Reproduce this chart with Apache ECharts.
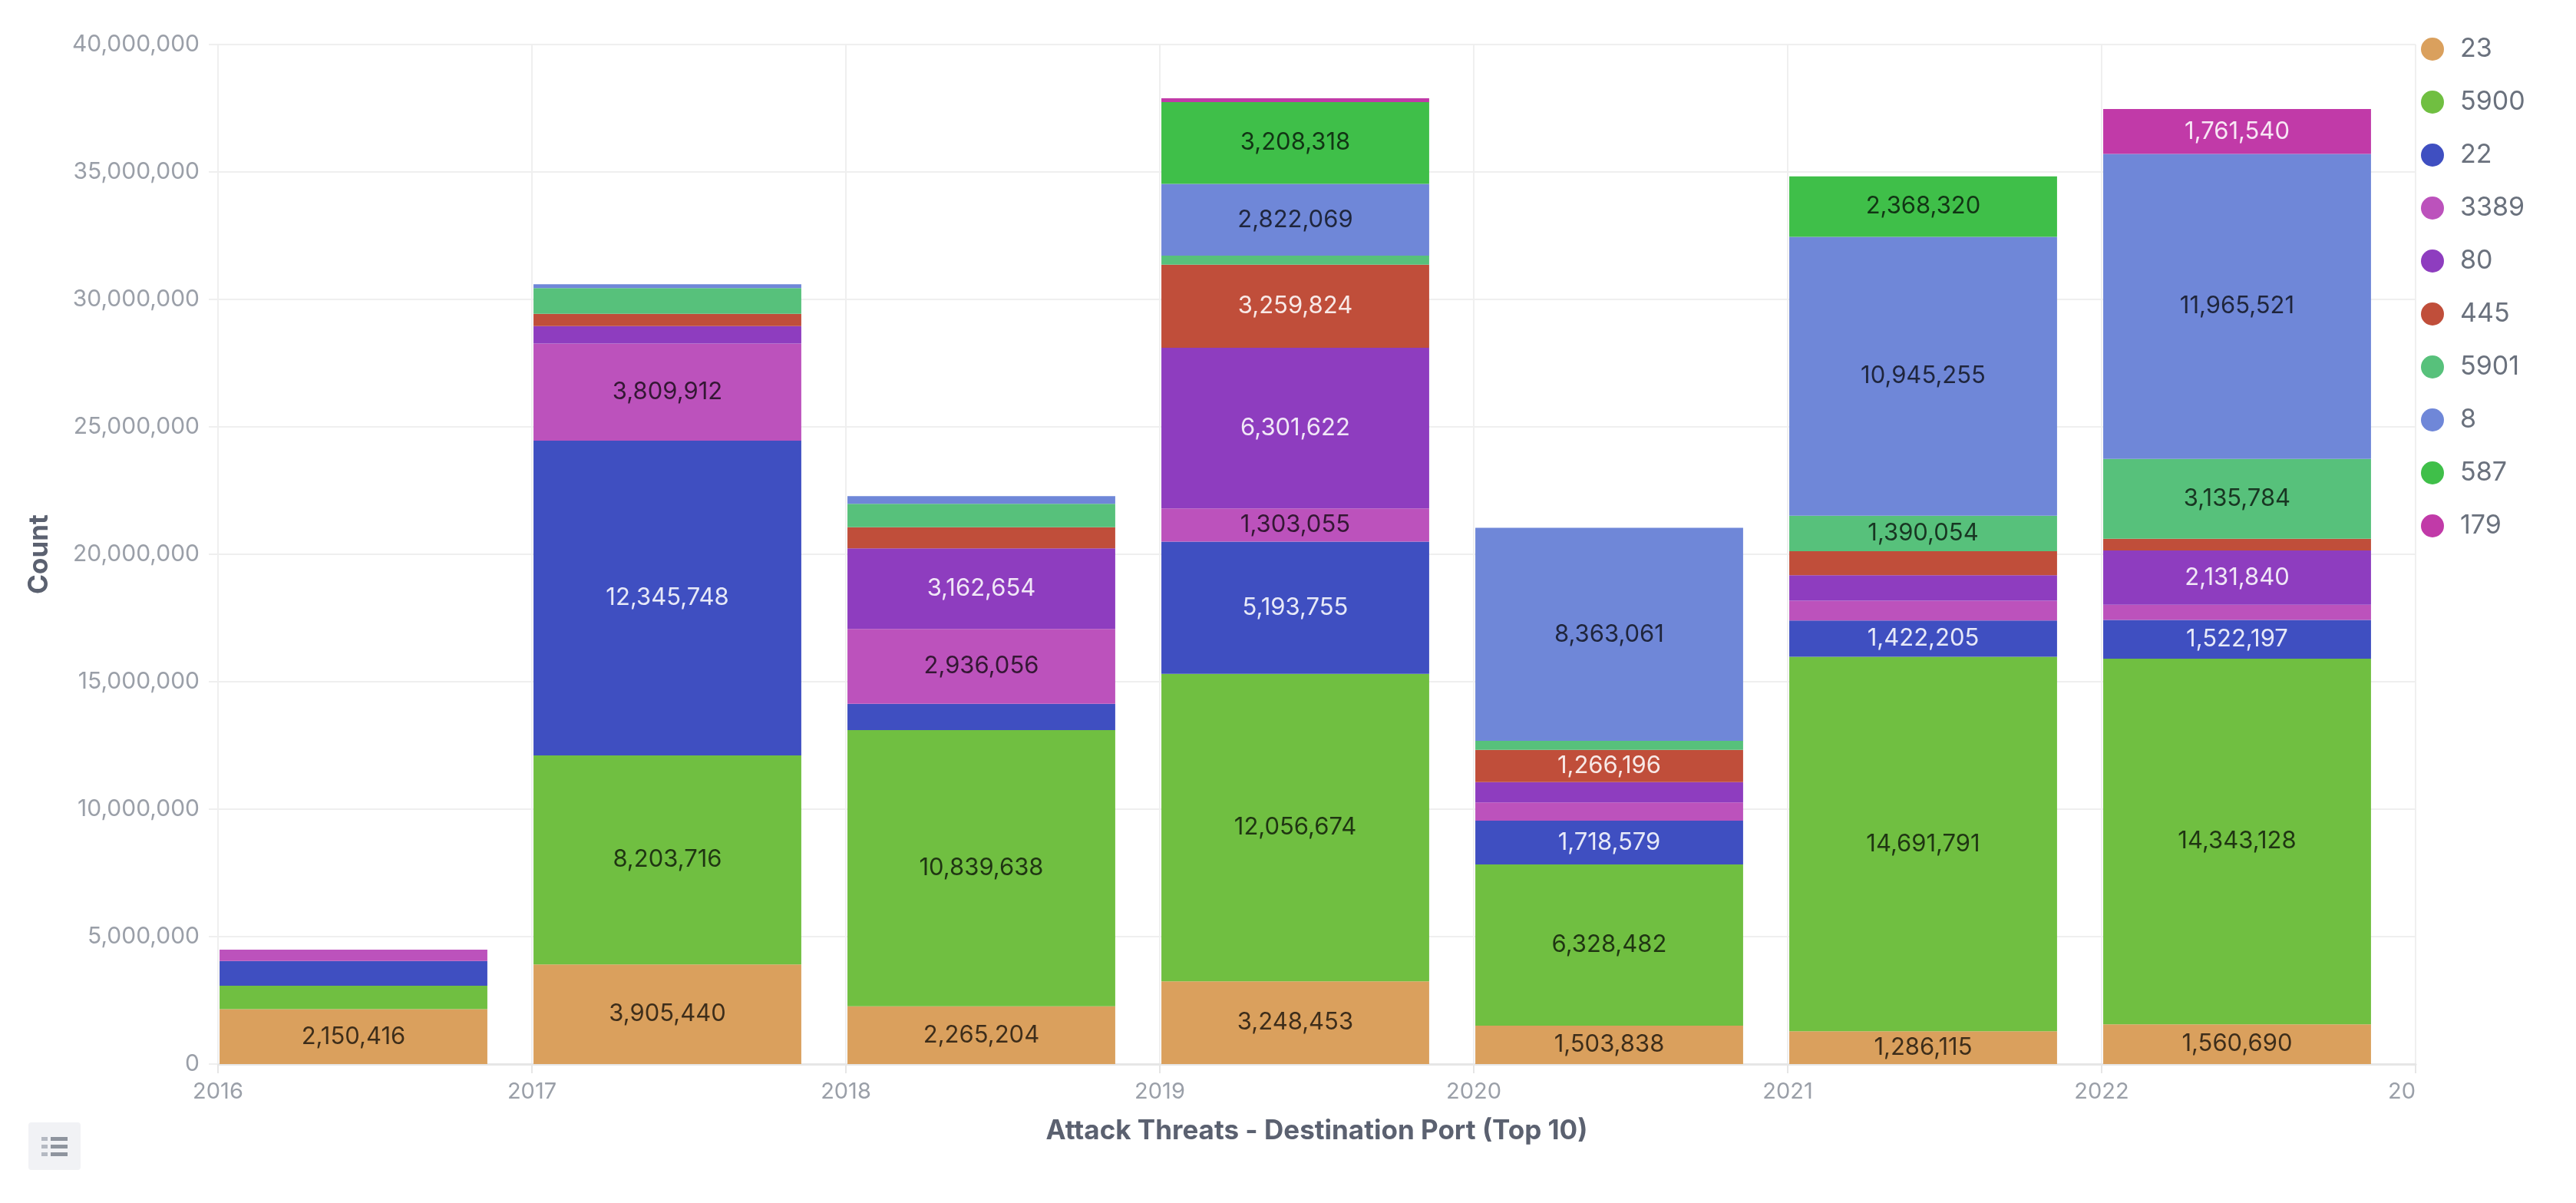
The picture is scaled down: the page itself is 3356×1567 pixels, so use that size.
<!DOCTYPE html>
<html>
<head>
<meta charset="utf-8">
<script src="https://cdn.jsdelivr.net/npm/echarts@6/dist/echarts.min.js"></script>
<style>
html,body{margin:0;padding:0;background:#ffffff;}
#chart{width:3356px;height:1567px;}
</style>
</head>
<body>
<div id="chart"></div>
<script>
// ---------------- data ----------------
const years = ['2016', '2017', '2018', '2019', '2020', '2021', '2022'];
const xTickLabels = ['2016', '2017', '2018', '2019', '2020', '2021', '2022', '20'];
const ports = ['23', '5900', '22', '3389', '80', '445', '5901', '8', '587', '179'];

const port23   = [2150416, 3905440, 2265204, 3248453, 1503838, 1286115, 1560690];
const port5900 = [920000, 8203716, 10839638, 12056674, 6328482, 14691791, 14343128];
const port22   = [975000, 12345748, 1030000, 5193755, 1718579, 1422205, 1522197];
const port3389 = [440000, 3809912, 2936056, 1303055, 710000, 780000, 590000];
const port80   = [0, 690000, 3162654, 6301622, 800000, 1000000, 2131840];
const port445  = [0, 480000, 830000, 3259824, 1266196, 940000, 460000];
const port5901 = [0, 1010000, 920000, 350000, 350000, 1390054, 3135784];
const port8    = [0, 150000, 300000, 2822069, 8363061, 10945255, 11965521];
const port587  = [0, 0, 0, 3208318, 0, 2368320, 0];
const port179  = [0, 0, 0, 150000, 0, 0, 1761540];

const portValues = [port23, port5900, port22, port3389, port80, port445, port5901, port8, port587, port179];

// ---------------- style ----------------
const portColors = ['#daa05d', '#70bf41', '#3f4fc1', '#bc52bc', '#8e3dbf', '#c04e3a', '#57c17b', '#6f87d8', '#3fbf49', '#c13aa8'];
const darkText = [true, true, false, true, false, false, true, true, true, false];
const FONT = 'Inter';
const LABEL_MIN = 1200000; // segments too thin to fit a label are left unlabeled
const fmt = v => Number(v).toLocaleString('en-US');

const series = ports.map((p, i) => ({
  name: p,
  type: 'bar',
  stack: 'ports',
  xAxisIndex: 0,
  yAxisIndex: 0,
  data: portValues[i],
  barWidth: '85.3%',
  barGap: '0%',
  itemStyle: { color: portColors[i] },
  label: {
    show: true,
    position: 'inside',
    fontFamily: FONT,
    fontSize: 31,
    color: darkText[i] ? 'rgba(0,0,0,0.72)' : 'rgba(255,255,255,0.88)',
    formatter: prm => (prm.value >= LABEL_MIN ? fmt(prm.value) : '')
  },
  emphasis: { disabled: true }
}));
// invisible spacer stack so each year's bar starts at the beginning of its interval
series.push({
  name: 'spacer',
  type: 'bar',
  stack: 'spacer',
  xAxisIndex: 0,
  yAxisIndex: 0,
  data: [],
  barWidth: '13.7%',
  barGap: '0%',
  silent: true,
  itemStyle: { color: 'rgba(0,0,0,0)' }
});

const chart = echarts.init(document.getElementById('chart'), null, { renderer: 'canvas' });
chart.setOption({
  animation: false,
  backgroundColor: '#ffffff',
  grid: { left: 284, right: 209, top: 58, bottom: 181, containLabel: false },
  legend: {
    data: ports,
    orient: 'vertical',
    left: 3154,
    top: 47,
    padding: 0,
    icon: 'circle',
    itemWidth: 62,
    itemHeight: 30,
    itemGap: 35,
    selectedMode: false,
    textStyle: { fontFamily: FONT, fontSize: 34, color: '#6a717d' }
  },
  xAxis: [
    {
      type: 'category',
      data: years,
      position: 'top',
      boundaryGap: true,
      show: false
    },
    {
      type: 'value',
      position: 'bottom',
      min: 2016,
      max: 2023,
      interval: 1,
      axisLine: { show: true, lineStyle: { color: '#e6e6e6', width: 3 } },
      axisTick: { show: true, length: 12, lineStyle: { color: '#e6e6e6', width: 2 } },
      splitLine: { show: true, lineStyle: { color: '#efefef', width: 2 } },
      axisLabel: {
        fontFamily: FONT,
        fontSize: 29,
        color: '#9a9fa8',
        margin: 22,
        formatter: v => {
          const idx = Math.round(v - 2016);
          const t = xTickLabels[idx];
          return idx === xTickLabels.length - 1 ? '{clip|' + t + '}' : t;
        },
        rich: { clip: { fontFamily: FONT, fontSize: 29, color: '#9a9fa8', padding: [0, 36, 0, 0] } }
      },
      name: 'Attack Threats - Destination Port (Top 10)',
      nameLocation: 'middle',
      nameGap: 70,
      nameTextStyle: { fontFamily: FONT, fontSize: 35, fontWeight: 'bold', color: '#5b6170' }
    }
  ],
  yAxis: {
    type: 'value',
    min: 0,
    max: 40000000,
    interval: 5000000,
    axisLine: { show: false },
    axisTick: { show: true, length: 12, lineStyle: { color: '#efefef', width: 2 } },
    splitLine: { show: true, lineStyle: { color: '#efefef', width: 2 } },
    axisLabel: { fontFamily: FONT, fontSize: 30, color: '#9a9fa8', margin: 24, formatter: v => fmt(v) },
    name: 'Count',
    nameLocation: 'middle',
    nameGap: 215,
    nameTextStyle: { fontFamily: FONT, fontSize: 35, fontWeight: 'bold', color: '#5b6170' }
  },
  graphic: [
    {
      type: 'group',
      left: 37,
      top: 1462,
      children: [
        { type: 'rect', shape: { x: 0, y: 0, width: 68, height: 62, r: 4 }, style: { fill: '#f1f2f5' } },
        { type: 'rect', shape: { x: 17, y: 19, width: 8, height: 5 }, style: { fill: '#b4b9c2' } },
        { type: 'rect', shape: { x: 17, y: 29, width: 8, height: 5 }, style: { fill: '#b4b9c2' } },
        { type: 'rect', shape: { x: 17, y: 39, width: 8, height: 5 }, style: { fill: '#b4b9c2' } },
        { type: 'rect', shape: { x: 29, y: 19, width: 22, height: 5 }, style: { fill: '#8e949e' } },
        { type: 'rect', shape: { x: 29, y: 29, width: 22, height: 5 }, style: { fill: '#8e949e' } },
        { type: 'rect', shape: { x: 29, y: 39, width: 22, height: 5 }, style: { fill: '#8e949e' } }
      ]
    }
  ],
  series: series
});
</script>
</body>
</html>
